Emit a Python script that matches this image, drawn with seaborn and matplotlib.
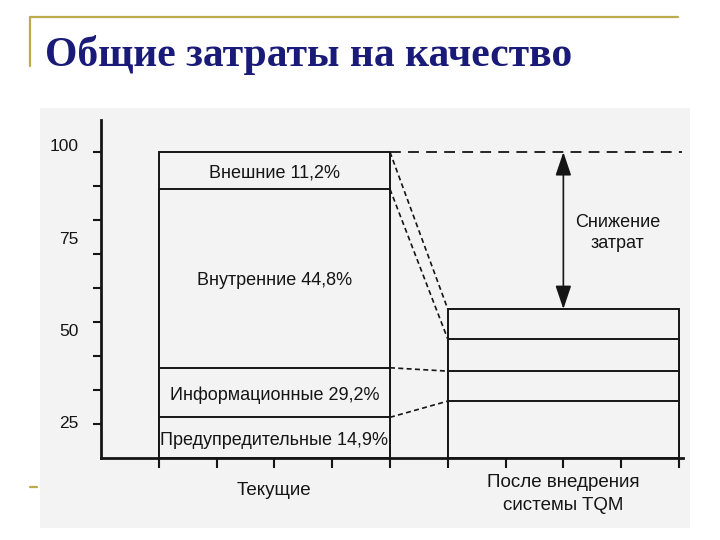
import matplotlib
matplotlib.use('Agg')
import matplotlib.pyplot as plt
from matplotlib.patches import Rectangle
from matplotlib.lines import Line2D
import seaborn as sns
import numpy as np
import pandas as pd

# ---- data ----
categories = ['Текущие', 'После внедрения\nсистемы TQM']
x_pos = [3, 8]
segment_labels = ['Предупредительные 14,9%', 'Информационные 29,2%',
                  'Внутренние 44,8%', 'Внешние 11,2%']
current_seg = [13.3, 16.2, 58.4, 12.1]   # drawn heights, bottom -> top
after_seg = [18.6, 9.8, 10.5, 9.8]
ytick_vals = [102.3, 71.9, 41.8, 11.8]
ytick_labels = ['100', '75', '50', '25']
title = 'Общие затраты на качество'
reduction_label = 'Снижение\nзатрат'

sns.set_theme(style='white')
plt.rcParams['font.family'] = ['Liberation Sans', 'DejaVu Sans']

W, H = 720, 540
fig = plt.figure(figsize=(7.2, 5.4), dpi=100)
fig.patch.set_facecolor('white')
bg = '#f3f3f3'
fig.patches.append(Rectangle((40 / W, 1 - 528 / H), 650 / W, 420 / H,
                             transform=fig.transFigure, facecolor=bg,
                             edgecolor='none', zorder=0))

gold = '#bcab4c'
fig.add_artist(Line2D([30 / W, 678 / W], [1 - 17 / H] * 2, color=gold, lw=1.6))
fig.add_artist(Line2D([30 / W] * 2, [1 - 17 / H, 1 - 66 / H], color=gold, lw=1.6))
fig.add_artist(Line2D([30 / W, 37 / W], [1 - 487 / H] * 2, color=gold, lw=1.6))
fig.text(45 / W, 1 - 66 / H, title, fontsize=30, fontweight='bold',
         family=['Liberation Serif', 'DejaVu Serif'], color='#1a1a78', va='baseline')

ax = fig.add_axes([101 / W, 1 - 458 / H, 582 / W, 338 / H])
ax.set_zorder(3)
ax.set_facecolor('none')

cum_cur = np.cumsum(current_seg)
cum_after = np.cumsum(after_seg)
ink = '#151515'
for lvl in reversed(range(len(current_seg))):
    df = pd.DataFrame({'x': x_pos, 'y': [cum_cur[lvl], cum_after[lvl]]})
    sns.barplot(data=df, x='x', y='y', native_scale=True, width=0.8,
                color=bg, saturation=1, edgecolor=ink, linewidth=1.4,
                errorbar=None, ax=ax, zorder=2)

# segment labels in current bar
bottoms = np.concatenate([[0], cum_cur[:-1]])
for lab, b, h in zip(segment_labels, bottoms, current_seg):
    ax.text(x_pos[0], b + h / 2 - 0.8, lab, ha='center', va='center',
            fontsize=13, color=ink, zorder=5)

# dashed connectors
x1 = x_pos[0] + 2
x2 = x_pos[1] - 2
for a, b in zip(cum_cur, cum_after):
    ax.plot([x1, x2], [a, b], color=ink, lw=1.2, ls=(0, (3, 2)), zorder=3)
ax.plot([x1, 10.05], [cum_cur[-1], cum_cur[-1]], color=ink, lw=1.3,
        ls=(0, (6, 4)), zorder=3)

# reduction arrow
ax.annotate('', xy=(x_pos[1], cum_cur[-1]), xytext=(x_pos[1], cum_after[-1]),
            arrowprops=dict(arrowstyle='<|-|>,head_length=0.8,head_width=0.27',
                            color=ink, lw=1.2, mutation_scale=18,
                            shrinkA=0, shrinkB=0), zorder=4)
ax.text(8.94, 73.5, reduction_label, ha='center', va='center', fontsize=13,
        color=ink, linespacing=1.35)

# category labels
ax.text(x_pos[0], -10.5, categories[0], ha='center', va='center', fontsize=13.5,
        color=ink, clip_on=False)
ax.text(x_pos[1], -11.8, categories[1], ha='center', va='center', fontsize=13.5,
        color=ink, linespacing=1.45, clip_on=False)

ax.set_xlim(0, 10.07)
ax.set_ylim(0, 110.5)
ax.set_xlabel('')
ax.set_ylabel('')
for s in ['top', 'right']:
    ax.spines[s].set_visible(False)
for s in ['left', 'bottom']:
    ax.spines[s].set_visible(True)
    ax.spines[s].set_color(ink)
    ax.spines[s].set_linewidth(2)
    ax.spines[s].set_zorder(6)

ax.set_xticks(np.arange(1, 11))
ax.set_xticklabels([])
ax.tick_params(axis='x', which='major', bottom=True, length=7, width=1.5,
               direction='out', color=ink)
ax.set_yticks(ytick_vals)
ax.set_yticklabels(ytick_labels)
ax.set_yticks(np.arange(1, 10) * 100 / 9, minor=True)
ax.tick_params(axis='y', which='major', left=True, length=0, pad=16,
               labelsize=12.5, labelcolor=ink)
ax.tick_params(axis='y', which='minor', left=True, length=6, width=1.5,
               direction='out', color=ink)
ax.grid(False)

fig.savefig('out.png', dpi=100)
